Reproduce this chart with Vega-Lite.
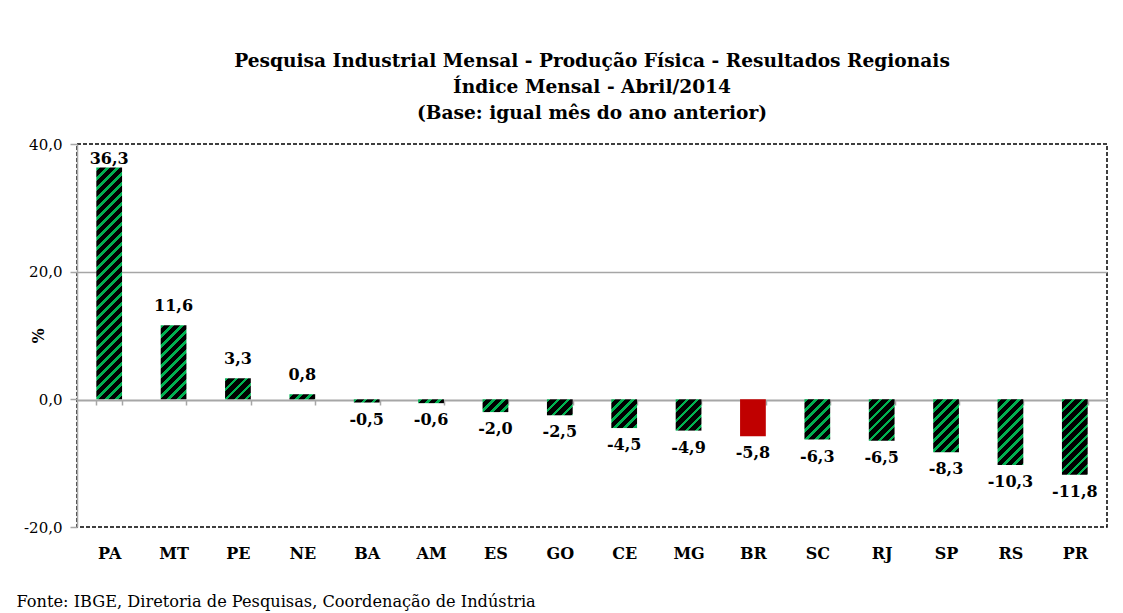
{
 "$schema": "https://vega.github.io/schema/vega-lite/v6.json",
 "autosize": "none",
 "width": 1030,
 "height": 383,
 "padding": {"left": 77, "top": 144, "right": 16, "bottom": 86},
 "background": "white",
 "config": {
  "locale": {"number": {"decimal": ",", "thousands": ".", "grouping": [3], "currency": ["R$", ""], "minus": "-"}},
  "view": {"stroke": "black", "strokeDash": [4, 2], "strokeWidth": 1.5},
  "font": "DejaVu Serif"
 },
 "title": {
  "text": ["Pesquisa Industrial Mensal - Produção Física - Resultados Regionais", "Índice Mensal - Abril/2014", "(Base: igual mês do ano anterior)"],
  "font": "DejaVu Serif", "fontSize": 18.6, "fontWeight": "bold", "lineHeight": 26,
  "anchor": "middle", "offset": 14, "color": "black"
 },
 "params": [
  {"name": "stripes", "value": [
   {"offset":0,"color":"#00b050"},{"offset":0.0117,"color":"#00b050"},{"offset":0.0117,"color":"#000000"},{"offset":0.0333,"color":"#000000"},
   {"offset":0.0333,"color":"#00b050"},{"offset":0.045,"color":"#00b050"},{"offset":0.045,"color":"#000000"},{"offset":0.0667,"color":"#000000"},
   {"offset":0.0667,"color":"#00b050"},{"offset":0.0783,"color":"#00b050"},{"offset":0.0783,"color":"#000000"},{"offset":0.1,"color":"#000000"},
   {"offset":0.1,"color":"#00b050"},{"offset":0.1117,"color":"#00b050"},{"offset":0.1117,"color":"#000000"},{"offset":0.1333,"color":"#000000"},
   {"offset":0.1333,"color":"#00b050"},{"offset":0.145,"color":"#00b050"},{"offset":0.145,"color":"#000000"},{"offset":0.1667,"color":"#000000"},
   {"offset":0.1667,"color":"#00b050"},{"offset":0.1783,"color":"#00b050"},{"offset":0.1783,"color":"#000000"},{"offset":0.2,"color":"#000000"},
   {"offset":0.2,"color":"#00b050"},{"offset":0.2117,"color":"#00b050"},{"offset":0.2117,"color":"#000000"},{"offset":0.2333,"color":"#000000"},
   {"offset":0.2333,"color":"#00b050"},{"offset":0.245,"color":"#00b050"},{"offset":0.245,"color":"#000000"},{"offset":0.2667,"color":"#000000"},
   {"offset":0.2667,"color":"#00b050"},{"offset":0.2783,"color":"#00b050"},{"offset":0.2783,"color":"#000000"},{"offset":0.3,"color":"#000000"},
   {"offset":0.3,"color":"#00b050"},{"offset":0.3117,"color":"#00b050"},{"offset":0.3117,"color":"#000000"},{"offset":0.3333,"color":"#000000"},
   {"offset":0.3333,"color":"#00b050"},{"offset":0.345,"color":"#00b050"},{"offset":0.345,"color":"#000000"},{"offset":0.3667,"color":"#000000"},
   {"offset":0.3667,"color":"#00b050"},{"offset":0.3783,"color":"#00b050"},{"offset":0.3783,"color":"#000000"},{"offset":0.4,"color":"#000000"},
   {"offset":0.4,"color":"#00b050"},{"offset":0.4117,"color":"#00b050"},{"offset":0.4117,"color":"#000000"},{"offset":0.4333,"color":"#000000"},
   {"offset":0.4333,"color":"#00b050"},{"offset":0.445,"color":"#00b050"},{"offset":0.445,"color":"#000000"},{"offset":0.4667,"color":"#000000"},
   {"offset":0.4667,"color":"#00b050"},{"offset":0.4783,"color":"#00b050"},{"offset":0.4783,"color":"#000000"},{"offset":0.5,"color":"#000000"},
   {"offset":0.5,"color":"#00b050"},{"offset":0.5117,"color":"#00b050"},{"offset":0.5117,"color":"#000000"},{"offset":0.5333,"color":"#000000"},
   {"offset":0.5333,"color":"#00b050"},{"offset":0.545,"color":"#00b050"},{"offset":0.545,"color":"#000000"},{"offset":0.5667,"color":"#000000"},
   {"offset":0.5667,"color":"#00b050"},{"offset":0.5783,"color":"#00b050"},{"offset":0.5783,"color":"#000000"},{"offset":0.6,"color":"#000000"},
   {"offset":0.6,"color":"#00b050"},{"offset":0.6117,"color":"#00b050"},{"offset":0.6117,"color":"#000000"},{"offset":0.6333,"color":"#000000"},
   {"offset":0.6333,"color":"#00b050"},{"offset":0.645,"color":"#00b050"},{"offset":0.645,"color":"#000000"},{"offset":0.6667,"color":"#000000"},
   {"offset":0.6667,"color":"#00b050"},{"offset":0.6783,"color":"#00b050"},{"offset":0.6783,"color":"#000000"},{"offset":0.7,"color":"#000000"},
   {"offset":0.7,"color":"#00b050"},{"offset":0.7117,"color":"#00b050"},{"offset":0.7117,"color":"#000000"},{"offset":0.7333,"color":"#000000"},
   {"offset":0.7333,"color":"#00b050"},{"offset":0.745,"color":"#00b050"},{"offset":0.745,"color":"#000000"},{"offset":0.7667,"color":"#000000"},
   {"offset":0.7667,"color":"#00b050"},{"offset":0.7783,"color":"#00b050"},{"offset":0.7783,"color":"#000000"},{"offset":0.8,"color":"#000000"},
   {"offset":0.8,"color":"#00b050"},{"offset":0.8117,"color":"#00b050"},{"offset":0.8117,"color":"#000000"},{"offset":0.8333,"color":"#000000"},
   {"offset":0.8333,"color":"#00b050"},{"offset":0.845,"color":"#00b050"},{"offset":0.845,"color":"#000000"},{"offset":0.8667,"color":"#000000"},
   {"offset":0.8667,"color":"#00b050"},{"offset":0.8783,"color":"#00b050"},{"offset":0.8783,"color":"#000000"},{"offset":0.9,"color":"#000000"},
   {"offset":0.9,"color":"#00b050"},{"offset":0.9117,"color":"#00b050"},{"offset":0.9117,"color":"#000000"},{"offset":0.9333,"color":"#000000"},
   {"offset":0.9333,"color":"#00b050"},{"offset":0.945,"color":"#00b050"},{"offset":0.945,"color":"#000000"},{"offset":0.9667,"color":"#000000"},
   {"offset":0.9667,"color":"#00b050"},{"offset":0.9783,"color":"#00b050"},{"offset":0.9783,"color":"#000000"},{"offset":1,"color":"#000000"}
  ]}
 ],
 "data": {"values": [
  {"uf": "PA", "v": 36.3},
  {"uf": "MT", "v": 11.6},
  {"uf": "PE", "v": 3.3},
  {"uf": "NE", "v": 0.8},
  {"uf": "BA", "v": -0.5},
  {"uf": "AM", "v": -0.6},
  {"uf": "ES", "v": -2.0},
  {"uf": "GO", "v": -2.5},
  {"uf": "CE", "v": -4.5},
  {"uf": "MG", "v": -4.9},
  {"uf": "BR", "v": -5.8},
  {"uf": "SC", "v": -6.3},
  {"uf": "RJ", "v": -6.5},
  {"uf": "SP", "v": -8.3},
  {"uf": "RS", "v": -10.3},
  {"uf": "PR", "v": -11.8}
 ]},
 "encoding": {
  "x": {
   "field": "uf", "type": "nominal", "sort": null,
   "scale": {"paddingInner": 0.6, "paddingOuter": 0.3},
   "axis": {
    "title": "Fonte: IBGE, Diretoria de Pesquisas, Coordenação de Indústria",
    "offset": -127, "domainColor": "#a6a6a6", "domainWidth": 2,
    "tickColor": "#a6a6a6", "tickSize": 5, "tickWidth": 1.5, "tickBand": "extent",
    "labelAngle": 0, "labelFont": "DejaVu Serif", "labelFontWeight": "bold", "labelFontSize": 16,
    "labelColor": "black", "labelBaseline": "middle", "labelPadding": 148,
    "titleFont": "DejaVu Serif", "titleFontWeight": "normal", "titleFontSize": 16.2, "titleColor": "black",
    "titleX": -61, "titleY": 201, "titleAlign": "left", "titleBaseline": "middle", "grid": false
   }
  },
  "y": {
   "field": "v", "type": "quantitative",
   "scale": {"domain": [-20, 40], "nice": false, "zero": false},
   "axis": {
    "values": [-20, 0, 20, 40], "format": ".1f",
    "title": "%", "titleFont": "DejaVu Serif", "titleFontWeight": "bold", "titleFontSize": 16, "titleColor": "black",
    "titleX": -39, "titleBaseline": "middle",
    "domainColor": "#a6a6a6", "domainWidth": 1.5, "tickColor": "#a6a6a6", "tickSize": 7, "tickWidth": 1.5,
    "labelFont": "DejaVu Serif", "labelFontSize": 15, "labelColor": "black", "labelPadding": 8,
    "grid": true, "gridColor": "#a6a6a6", "gridWidth": 1.5,
    "gridOpacity": {"condition": {"test": "datum.value === 20", "value": 1}, "value": 0}
   }
  }
 },
 "layer": [
  {
   "mark": {
    "type": "bar",
    "fill": {"expr": "datum.uf === 'BR' ? '#c00000' : {gradient: 'linear', x1: 0, y1: 0, x2: 300*25.75/(663.06 + pow(abs(datum.v)*6.3833, 2)), y2: 300*abs(datum.v)*6.3833/(663.06 + pow(abs(datum.v)*6.3833, 2)), stops: stripes}"}
   }
  },
  {
   "mark": {
    "type": "text", "font": "DejaVu Serif", "fontWeight": "bold", "fontSize": 16, "color": "black",
    "baseline": "middle",
    "dy": {"expr": "datum.v < 0 ? 17 : (datum.uf === 'PA' ? -9 : -19)"}
   },
   "encoding": {"text": {"field": "v", "type": "quantitative", "format": ".1f"}}
  }
 ]
}
